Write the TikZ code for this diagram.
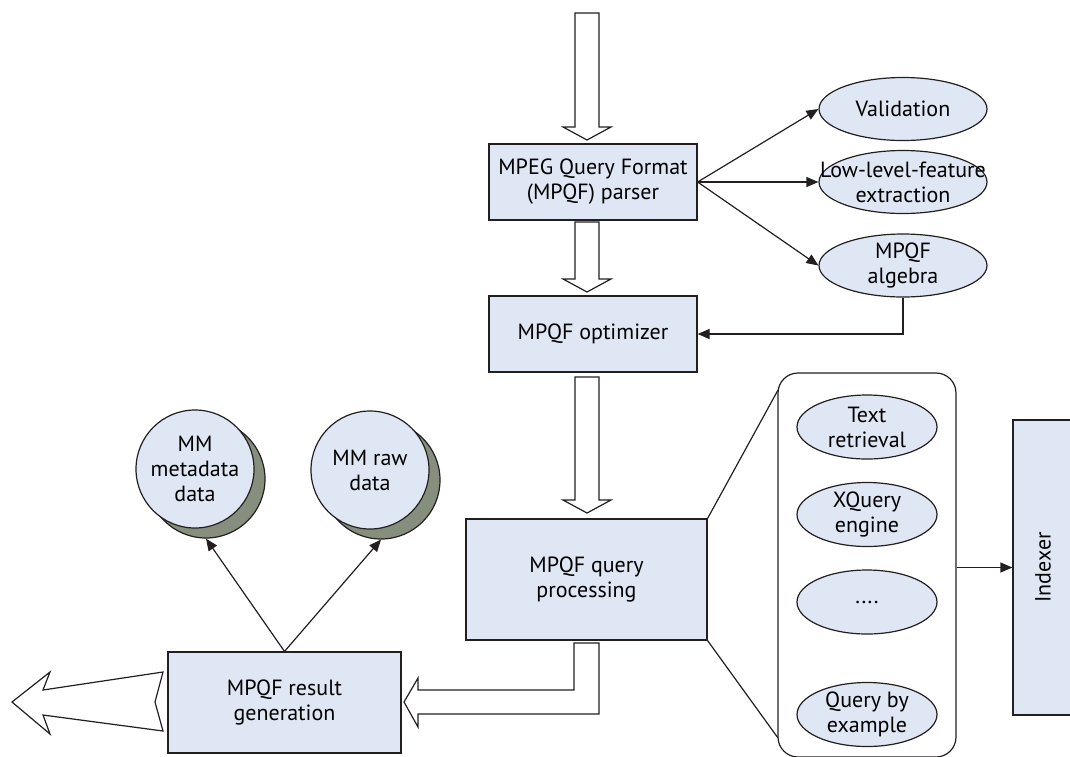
\documentclass[tikz,border=0pt]{standalone}
\usepackage{fontspec}
\setmainfont{PT Sans}
\usetikzlibrary{arrows.meta,shapes.geometric}

\definecolor{boxblue}{RGB}{223,230,244}
\definecolor{shadowgreen}{RGB}{134,143,125}
\definecolor{linegray}{RGB}{35,31,32}

\tikzset{
    box/.style={draw=linegray, line width=0.6pt, fill=boxblue, align=center,
        inner sep=0pt, font=\fontsize{11}{12.5}\selectfont},
    oval/.style={box, ellipse, inner sep=-4pt},
    disk/.style={box, circle},
    shadow/.style={circle, draw=linegray, line width=0.6pt, fill=shadowgreen, inner sep=0pt},
    fat/.style={draw=linegray, line width=0.6pt, fill=white, line join=miter},
    link/.style={draw=linegray, line width=0.6pt, -{Triangle[length=6pt,width=5pt]}},
}

\begin{document}
\begin{tikzpicture}[x=0.5pt, y=-0.5pt]
    \useasboundingbox (0,0) rectangle (1070,756);

    % Main chain
    \node[box, minimum width=104pt, minimum height=38pt] (parser) at (593,182)
        {MPEG Query Format\\(MPQF) parser};
    \node[box, minimum width=104pt, minimum height=38pt] (optimizer) at (593,334)
        {MPQF optimizer};
    \node[box, minimum width=120.5pt, minimum height=60.5pt] (query) at (586.5,579.5)
        {MPQF query\\processing};
    \node[box, minimum width=116.5pt, minimum height=50.5pt] (result) at (284.5,702.5)
        {MPQF result\\generation};

    % Parser side tasks
    \node[oval, minimum width=84pt, minimum height=31.5pt] (validation) at (903,109) {Validation};
    \node[oval, minimum width=84pt, minimum height=31.5pt, inner xsep=-12pt] (lowlevel) at (903,182)
        {Low-level-feature\\extraction};
    \node[oval, minimum width=84pt, minimum height=31.5pt] (algebra) at (903,265.5)
        {MPQF\\algebra};

    % Query engines
    \node[draw=linegray, line width=0.6pt, rounded corners=10pt, minimum width=89pt,
        minimum height=192pt] (engines) at (867,565) {};
    \node[oval, minimum width=70pt, minimum height=32pt] (textret) at (867,427) {Text\\retrieval};
    \node[oval, minimum width=70pt, minimum height=32pt] (xquery) at (867,514.5) {XQuery\\engine};
    \node[oval, minimum width=70pt, minimum height=32pt] (dots) at (867,602) {....};
    \node[oval, minimum width=70pt, minimum height=32pt] (qbe) at (867,714.5) {Query by\\example};
    \coordinate (engtop) at (778,390);
    \coordinate (engbot) at (778,738);

    \node[box, minimum width=31pt, minimum height=147.5pt] (indexer) at (1044,567.5) {};
    \node[rotate=90, font=\fontsize{11}{12.5}\selectfont] (indexerlabel) at (1043,567.5) {Indexer};

    % Data stores
    \node[shadow, minimum size=59pt] (metashadow) at (206,479) {};
    \node[disk, minimum size=59pt] (metadata) at (195,469) {MM\\metadata\\data};
    \node[shadow, minimum size=59pt] (rawshadow) at (381,480) {};
    \node[disk, minimum size=59pt] (rawdata) at (370,470) {MM raw\\data};

    % Hollow arrows
    \draw[fat] (575,13) -- (599,13) -- (599,127) -- (611,127) -- (587,140)
        -- (563,127) -- (575,127) -- cycle;
    \draw[fat] (575,222) -- (599,222) -- (599,279) -- (611,279) -- (587,292)
        -- (563,279) -- (575,279) -- cycle;
    \draw[fat] (575,377) -- (599,377) -- (599,500) -- (611,500) -- (587,513)
        -- (563,500) -- (575,500) -- cycle;
    \draw[fat] (574,643) -- (599,643) -- (599,714) -- (418,714) -- (418,727)
        -- (404,702) -- (418,678) -- (418,690) -- (574,690) -- cycle;
    \draw[fat] (163,672) -- (43,690) -- (50,672) -- (12,702) -- (50,734)
        -- (43,715) -- (163,731) -- (155,702) -- cycle;

    % Thin connectors
    \draw[link] (parser.east) -- (validation.west);
    \draw[link] (parser.east) -- (lowlevel.west);
    \draw[link] (parser.east) -- (algebra.west);
    \draw[link] (algebra.south) |- (optimizer.east);
    \draw[draw=linegray, line width=0.6pt] (query.north east) -- (engtop);
    \draw[draw=linegray, line width=0.6pt] (query.south east) -- (engbot);
    \draw[link] (indexer.west -| engines.east) -- (indexer.west);
    \draw[link] (result.north) -- (metashadow.south);
    \draw[link] (result.north) -- (rawshadow.south);
\end{tikzpicture}
\end{document}
